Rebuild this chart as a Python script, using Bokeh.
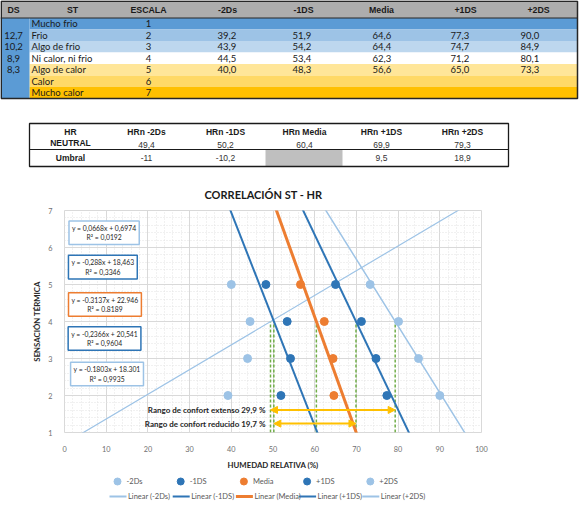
import numpy as np
from bokeh.plotting import figure
from bokeh.models import Range1d, Label, Arrow, NormalHead, SingleIntervalTicker
from bokeh.layouts import column
from bokeh.core.properties import value
from bokeh.embed import file_html
from bokeh.resources import INLINE

# ---------------- data ----------------
st_labels = ["Mucho frio", "Frio", "Algo de frio", "Ni calor, ni frio",
             "Algo de calor", "Calor", "Mucho calor"]
escala = [1, 2, 3, 4, 5, 6, 7]
ds_values = [None, 12.7, 10.2, 8.9, 8.3, None, None]

series_names = ["-2Ds", "-1DS", "Media", "+1DS", "+2DS"]
hr_m2 = [None, 39.2, 43.9, 44.5, 40.0, None, None]
hr_m1 = [None, 51.9, 54.2, 53.4, 48.3, None, None]
hr_med = [None, 64.6, 64.4, 62.3, 56.6, None, None]
hr_p1 = [None, 77.3, 74.7, 71.2, 65.0, None, None]
hr_p2 = [None, 90.0, 84.9, 80.1, 73.3, None, None]
series_values = [hr_m2, hr_m1, hr_med, hr_p1, hr_p2]

hrn_headers = ["HRn -2Ds", "HRn -1DS", "HRn Media", "HRn +1DS", "HRn +2DS"]
hr_neutral = [49.4, 50.2, 60.4, 69.9, 79.3]
umbral = [-11, -10.2, None, 9.5, 18.9]

# trendlines as printed on the chart
slopes = [0.0668, -0.288, -0.3137, -0.2366, -0.1803]
intercepts = [0.6974, 18.463, 22.946, 20.541, 18.301]
eq_labels = ["y = 0,0668x + 0,6974\nR² = 0,0192",
             "y = -0,288x + 18,463\nR² = 0,3346",
             "y = -0.3137x + 22.946\nR² = 0.8189",
             "y = -0,2366x + 20,541\nR² = 0,9604",
             "y = -0.1803x + 18.301\nR² = 0,9935"]


def fmt(v, spec=".1f"):
    if v is None:
        return ""
    return format(v, spec).replace(".", ",")


BODY = value("Lato")
HEAD = value("Liberation Sans")


def pixel_figure(w, h):
    f = figure(width=w, height=h, x_range=Range1d(0, w), y_range=Range1d(h, 0),
               x_axis_type=None, y_axis_type=None, toolbar_location=None,
               output_backend="svg", min_border=0, outline_line_color=None)
    f.grid.visible = False
    f.frame_align = False
    return f


# ---------------- tables (pixel coords, y down) ----------------
t = pixel_figure(584, 172)

row_colors = ["#5B9BD5", "#9DC3E6", "#BDD7EE", "#FFFFFF", "#FFE699", "#FFD966", "#FFC000"]
head_h, row_h, right = 17.5, 11.5, 577
row_top = [head_h + i * row_h for i in range(len(st_labels))]
row_mid = [r + row_h / 2 for r in row_top]

t.quad(left=0, right=right, top=0, bottom=head_h, fill_color="#ADADAD", line_color=None)
t.quad(left=29, right=right, top=row_top, bottom=[r + row_h for r in row_top],
       fill_color=row_colors, line_color=None)
t.quad(left=0, right=29, top=head_h, bottom=row_top[-1] + row_h,
       fill_color="#5B9BD5", line_color=None)

headers1 = ["DS", "ST", "ESCALA"] + series_names
head_x = [13, 72, 148, 227, 303, 381, 465, 538]
t.text(x=head_x, y=[head_h / 2 + 0.5] * len(headers1), text=headers1, text_align="center",
       text_baseline="middle", text_font=HEAD, text_font_style="bold",
       text_font_size="8.8px", text_color="#1A1A1A")

t.text(x=13, y=row_mid, text=[fmt(v) for v in ds_values], text_align="center",
       text_baseline="middle", text_font=BODY, text_font_size="9.5px", text_color="#1A1A1A")
t.text(x=31, y=row_mid, text=st_labels, text_align="left", text_baseline="middle",
       text_font=BODY, text_font_size="9.5px", text_color="#1A1A1A")
t.text(x=148, y=row_mid, text=[str(e) for e in escala], text_align="center",
       text_baseline="middle", text_font=BODY, text_font_size="9.5px", text_color="#1A1A1A")
val_x = [217, 292, 372, 450, 520]
for vx, vals in zip(val_x, series_values):
    t.text(x=vx, y=row_mid, text=[fmt(v) for v in vals], text_align="left",
           text_baseline="middle", text_font=BODY, text_font_size="9.5px",
           text_color="#1A1A1A")

t.quad(left=0.75, right=right, top=0.75, bottom=row_top[-1] + row_h, fill_color=None,
       line_color="#262626", line_width=1.5)
t.segment(x0=0, y0=head_h, x1=right, y1=head_h, line_color="#262626", line_width=1)

# second table
t2_left, t2_right, t2_top, t2_mid, t2_bot = 29, 508, 123, 149, 166
col_x = [146, 225, 304, 381, 462]
t.quad(left=265, right=342, top=t2_mid, bottom=t2_bot, fill_color="#BFBFBF", line_color=None)
t.quad(left=t2_left, right=t2_right, top=t2_top, bottom=t2_bot, fill_color=None,
       line_color="#1A1A1A", line_width=1.3)
t.segment(x0=t2_left, y0=t2_mid, x1=t2_right, y1=t2_mid, line_color="#1A1A1A", line_width=1)

t.text(x=70, y=[131, 142, 157.5], text=["HR", "NEUTRAL", "Umbral"], text_align="center",
       text_baseline="middle", text_font=HEAD, text_font_style="bold",
       text_font_size="8.5px", text_color="#1A1A1A")
t.text(x=col_x, y=131, text=hrn_headers, text_align="center", text_baseline="middle",
       text_font=HEAD, text_font_style="bold", text_font_size="8.5px", text_color="#1A1A1A")
t.text(x=col_x, y=144, text=[fmt(v) for v in hr_neutral], text_align="center",
       text_baseline="middle", text_font=HEAD, text_font_size="8.5px", text_color="#333333")
t.text(x=col_x, y=157.5, text=[fmt(v, "g") for v in umbral], text_align="center",
       text_baseline="middle", text_font=HEAD, text_font_size="8.5px", text_color="#333333")

# ---------------- chart ----------------
x_min, x_max, y_min, y_max = 0, 100, 1, 7
p = figure(width=584, height=300, x_range=Range1d(x_min, x_max),
           y_range=Range1d(y_min, y_max), toolbar_location=None, output_backend="svg",
           min_border_left=64, min_border_right=103, min_border_top=38,
           min_border_bottom=33, outline_line_color="#D9D9D9")
p.frame_align = False

p.title.text = "CORRELACIÓN ST - HR"
p.title.align = "left"
p.title.offset = 140
p.title.standoff = 19
p.title.text_font = "Lato"
p.title.text_font_size = "11px"
p.title.text_color = "#1A1A1A"

p.xaxis.ticker = SingleIntervalTicker(interval=10, num_minor_ticks=5)
p.yaxis.ticker = SingleIntervalTicker(interval=1, num_minor_ticks=5)
p.grid.grid_line_color = "#D9D9D9"
p.grid.minor_grid_line_color = "#E3E3E3"
p.grid.minor_grid_line_dash = "1 2"
for ax in (p.xaxis[0], p.yaxis[0]):
    ax.axis_line_color = None
    ax.major_tick_line_color = None
    ax.minor_tick_line_color = None
    ax.major_label_text_font = "Lato"
    ax.major_label_text_font_size = "7.3px"
    ax.major_label_text_color = "#707070"
    ax.axis_label_text_font = "Lato"
    ax.axis_label_text_font_size = "7.8px"
    ax.axis_label_text_font_style = "bold"
    ax.axis_label_text_color = "#262626"
p.xaxis.axis_label = "HUMEDAD RELATIVA (%)"
p.yaxis.axis_label = "SENSACIÓN TÉRMICA"
p.xaxis.major_label_standoff = 7
p.yaxis.major_label_standoff = 6
p.xaxis.axis_label_standoff = 5
p.yaxis.axis_label_standoff = 3

light, dark, orange = "#9DC3E6", "#2E75B6", "#ED7D31"
colors = [light, dark, orange, dark, light]
widths = [1.2, 2, 3, 2, 1.5]

neutral = escala[3]
p.segment(x0=hr_neutral, y0=y_min, x1=hr_neutral, y1=neutral,
          line_color="#70AD47", line_dash="3 2", line_width=1.5)

xs = np.array([x_min, x_max], dtype=float)
for m, b, c, w in zip(slopes, intercepts, colors, widths):
    p.line(xs, m * xs + b, line_color=c, line_width=w)
for vals, c in zip(series_values, colors):
    px = [v for v in vals if v is not None]
    py = [e for v, e in zip(vals, escala) if v is not None]
    p.scatter(px, py, size=8, fill_color=c, line_color=c)

# comfort ranges
arrow_y = [1.61, 1.24]
spans = [(hr_neutral[0], hr_neutral[4], "Rango de confort extenso"),
         (hr_neutral[1], hr_neutral[3], "Rango de confort reducido")]
for (a, b, txt), ay in zip(spans, arrow_y):
    p.add_layout(Arrow(start=NormalHead(size=7, fill_color="#FFC000", line_color="#FFC000"),
                       end=NormalHead(size=7, fill_color="#FFC000", line_color="#FFC000"),
                       x_start=a, y_start=ay, x_end=b, y_end=ay,
                       line_color="#FFC000", line_width=2))
    p.add_layout(Label(x=48.2, y=ay, text=f"{txt} {fmt(b - a)} %", text_align="right",
                       text_baseline="middle", text_font="Lato", text_font_style="bold",
                       text_font_size="8px", text_color="#262626"))

# trendline equations
eq_pos = [(9.5, 6.40), (9.2, 5.47), (9.7, 4.46), (9.6, 3.54), (10.2, 2.58)]
for (ex, ey), txt, c in zip(eq_pos, eq_labels, colors):
    p.add_layout(Label(x=ex, y=ey, text=txt, text_align="center", text_baseline="middle",
                       text_font="Lato", text_font_size="6.8px", text_color="#262626",
                       background_fill_color="white", border_line_color=c,
                       border_line_width=1.5, padding=3))

# ---------------- legend strip ----------------
lg = pixel_figure(584, 34)
pitch = 63.2
slots = np.arange(len(series_names)) * pitch
lg.scatter(117 + slots, 9, size=7, fill_color=colors, line_color=colors)
lg.text(x=126 + slots, y=9, text=series_names, text_align="left", text_baseline="middle",
        text_font=BODY, text_font_size="7.5px", text_color="#595959")
lg.segment(x0=109 + slots, y0=24, x1=126 + slots, y1=24, line_color=colors,
           line_width=[2, 2, 3, 2, 2])
lg.text(x=127.5 + slots, y=24, text=[f"Linear ({n})" for n in series_names],
        text_align="left", text_baseline="middle", text_font=BODY,
        text_font_size="7.5px", text_color="#595959")

page = column(t, p, lg, spacing=0)
open("out.html", "w").write(file_html(page, INLINE))
